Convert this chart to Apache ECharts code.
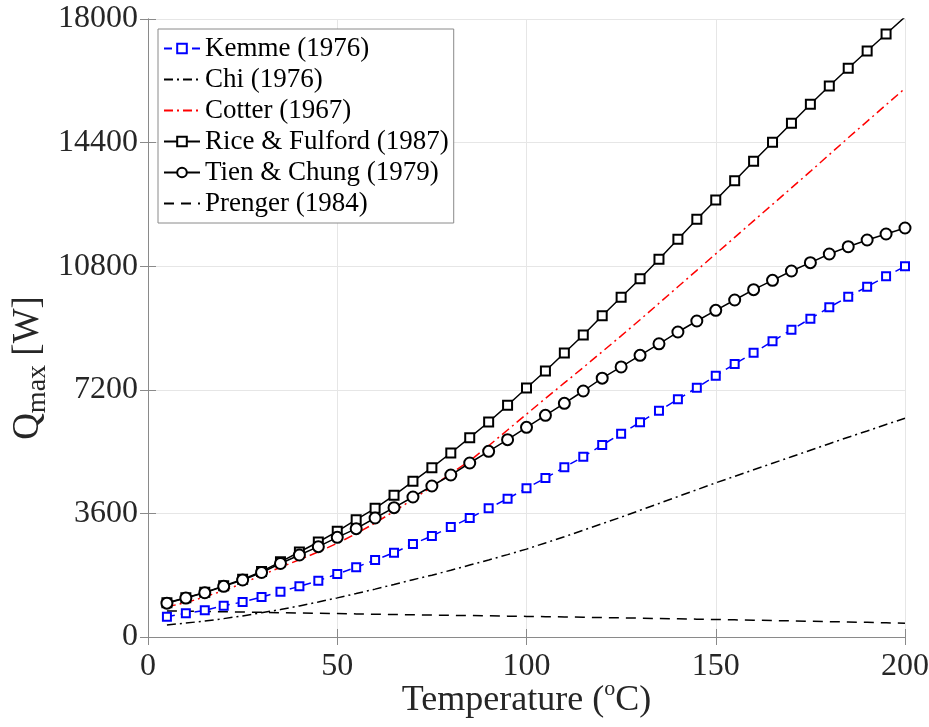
<!DOCTYPE html>
<html><head><meta charset="utf-8">
<script src="https://cdn.jsdelivr.net/npm/echarts@6/dist/echarts.min.js"></script>
<style>html,body{margin:0;padding:0;background:#fff}#c{width:929px;height:727px}</style>
</head><body><div id="c"></div>
<script>
const temps = [5,10,15,20,25,30,35,40,45,50,55,60,65,70,75,80,85,90,95,100,105,110,115,120,125,130,135,140,145,150,155,160,165,170,175,180,185,190,195,200];
const kemme = [591,690,777,912,1019,1165,1320,1476,1640,1835,2030,2243,2456,2709,2942,3204,3466,3748,4029,4330,4631,4942,5252,5592,5922,6252,6592,6922,7262,7611,7951,8281,8611,8951,9272,9602,9912,10203,10505,10796];
const chi = [350,405,465,535,615,705,800,905,1020,1140,1265,1395,1530,1670,1800,1945,2095,2245,2400,2560,2740,2920,3110,3300,3490,3690,3890,4090,4290,4490,4680,4870,5060,5250,5440,5630,5820,6000,6190,6370];
const cotter = [880,1000,1170,1350,1560,1800,2030,2250,2480,2730,3010,3320,3660,4010,4380,4760,5130,5570,6030,6490,6950,7400,7850,8310,8770,9240,9720,10200,10680,11160,11640,12120,12600,13080,13560,14050,14540,15020,15500,15980];
const rice = [995,1145,1300,1490,1680,1910,2190,2476,2767,3078,3417,3748,4127,4535,4931,5359,5805,6262,6748,7252,7748,8272,8796,9358,9894,10436,11000,11583,12166,12728,13290,13855,14408,14962,15518,16048,16564,17068,17563,18060];
const tien = [985,1135,1290,1475,1660,1880,2140,2388,2631,2903,3155,3466,3767,4078,4398,4718,5068,5408,5747,6107,6457,6806,7165,7540,7865,8204,8540,8883,9204,9515,9815,10117,10389,10660,10903,11155,11368,11563,11738,11913];
const prenger = [760,752,744,736,727,718,709,700,691,682,673,664,656,648,640,632,624,616,608,600,592,584,576,566,557,548,539,530,520,510,500,490,480,470,459,448,437,426,414,402];
const names = ['Kemme (1976)','Chi (1976)','Cotter (1967)','Rice & Fulford (1987)','Tien & Chung (1979)','Prenger (1984)'];
const xTicks = [0,50,100,150,200];
const yTicks = [0,3600,7200,10800,14400,18000];

const FONT = 'Liberation Serif';
const AX = '#8a8a8a';
const TXT = '#262626';
const pairs = v => temps.map((t,i)=>[t, v[i]]);

function axisBase(pos, ticks, showLabel, margin){
  return {
    type:'value', position:pos, min:ticks[0], max:ticks[ticks.length-1], interval:ticks[1]-ticks[0],
    axisLine:{show:true, lineStyle:{color:AX, width:1}},
    axisTick:{show:true, inside:true, length:8, lineStyle:{color:AX}},
    splitLine:{show:showLabel, lineStyle:{color:'#e6e6e6', width:1}},
    axisLabel:{show:showLabel, fontFamily:FONT, fontSize:32, color:TXT, margin:margin, formatter:v=>String(v)}
  };
}

const xMain = axisBase('bottom', xTicks, true, 14);
xMain.name = 'Temperature ({sup|o}C)';
xMain.nameLocation = 'middle';
xMain.nameGap = 41;
xMain.nameMoveOverlap = false;
xMain.nameTextStyle = {fontFamily:FONT, fontSize:36, color:TXT, lineHeight:46,
  rich:{sup:{fontFamily:FONT, fontSize:22, lineHeight:22, verticalAlign:'top', color:TXT}}};
const yMain = axisBase('left', yTicks, true, 10);
yMain.name = '{q|Q}{sub|max}{q| [W]}';
yMain.nameLocation = 'middle';
yMain.nameRotate = 90;
yMain.nameGap = 96;
yMain.nameMoveOverlap = false;
yMain.nameTextStyle = {fontFamily:FONT, fontSize:36, color:TXT, padding:[0,80,0,0],
  rich:{q:{fontFamily:FONT, fontSize:37, lineHeight:48, color:TXT},
        sub:{fontFamily:FONT, fontSize:28, lineHeight:27, verticalAlign:'bottom', color:TXT}}};

const dashDot = [9,4,2,4];
const noMark = {opacity:0};
const option = {
  animation:false,
  backgroundColor:'#fff',
  grid:{left:148, right:24, top:19, bottom:90, containLabel:false, outerBoundsMode:'none'},
  xAxis:[xMain, axisBase('top', xTicks, false, 8)],
  yAxis:[yMain, axisBase('right', yTicks, false, 8)],
  legend:{
    data:[
      {name:names[0]},
      {name:names[1], itemStyle:noMark},
      {name:names[2], itemStyle:noMark},
      {name:names[3]},
      {name:names[4]},
      {name:names[5], itemStyle:noMark}
    ],
    orient:'vertical', left:158, top:29, itemWidth:36, itemHeight:12, itemGap:0,
    padding:[4,5,4,5], borderColor:AX, borderWidth:1, backgroundColor:'#fff',
    textStyle:{fontFamily:FONT, fontSize:27, lineHeight:31, color:'#000'}
  },
  series:[
    {name:names[0], type:'line', data:pairs(kemme), symbol:'emptyRect', symbolSize:8,
     lineStyle:{color:'#0000ff', width:1.5, type:[8,6]}, itemStyle:{color:'#0000ff', borderWidth:1.5}},
    {name:names[1], type:'line', data:pairs(chi), symbol:'none',
     lineStyle:{color:'#000', width:1.5, type:dashDot}, itemStyle:{color:'#000'}},
    {name:names[2], type:'line', data:pairs(cotter), symbol:'none',
     lineStyle:{color:'#ff0000', width:1.5, type:dashDot}, itemStyle:{color:'#ff0000'}},
    {name:names[3], type:'line', data:pairs(rice), symbol:'emptyRect', symbolSize:9, clip:true,
     lineStyle:{color:'#000', width:1.5}, itemStyle:{color:'#000', borderWidth:1.5}},
    {name:names[4], type:'line', data:pairs(tien), symbol:'emptyCircle', symbolSize:11,
     lineStyle:{color:'#000', width:1.5}, itemStyle:{color:'#000', borderWidth:1.5}},
    {name:names[5], type:'line', data:pairs(prenger), symbol:'none',
     lineStyle:{color:'#000', width:1.5, type:[10,7]}, itemStyle:{color:'#000'}}
  ]
};
const chart = echarts.init(document.getElementById('c'), null, {renderer:'canvas'});
chart.setOption(option);
</script></body></html>
